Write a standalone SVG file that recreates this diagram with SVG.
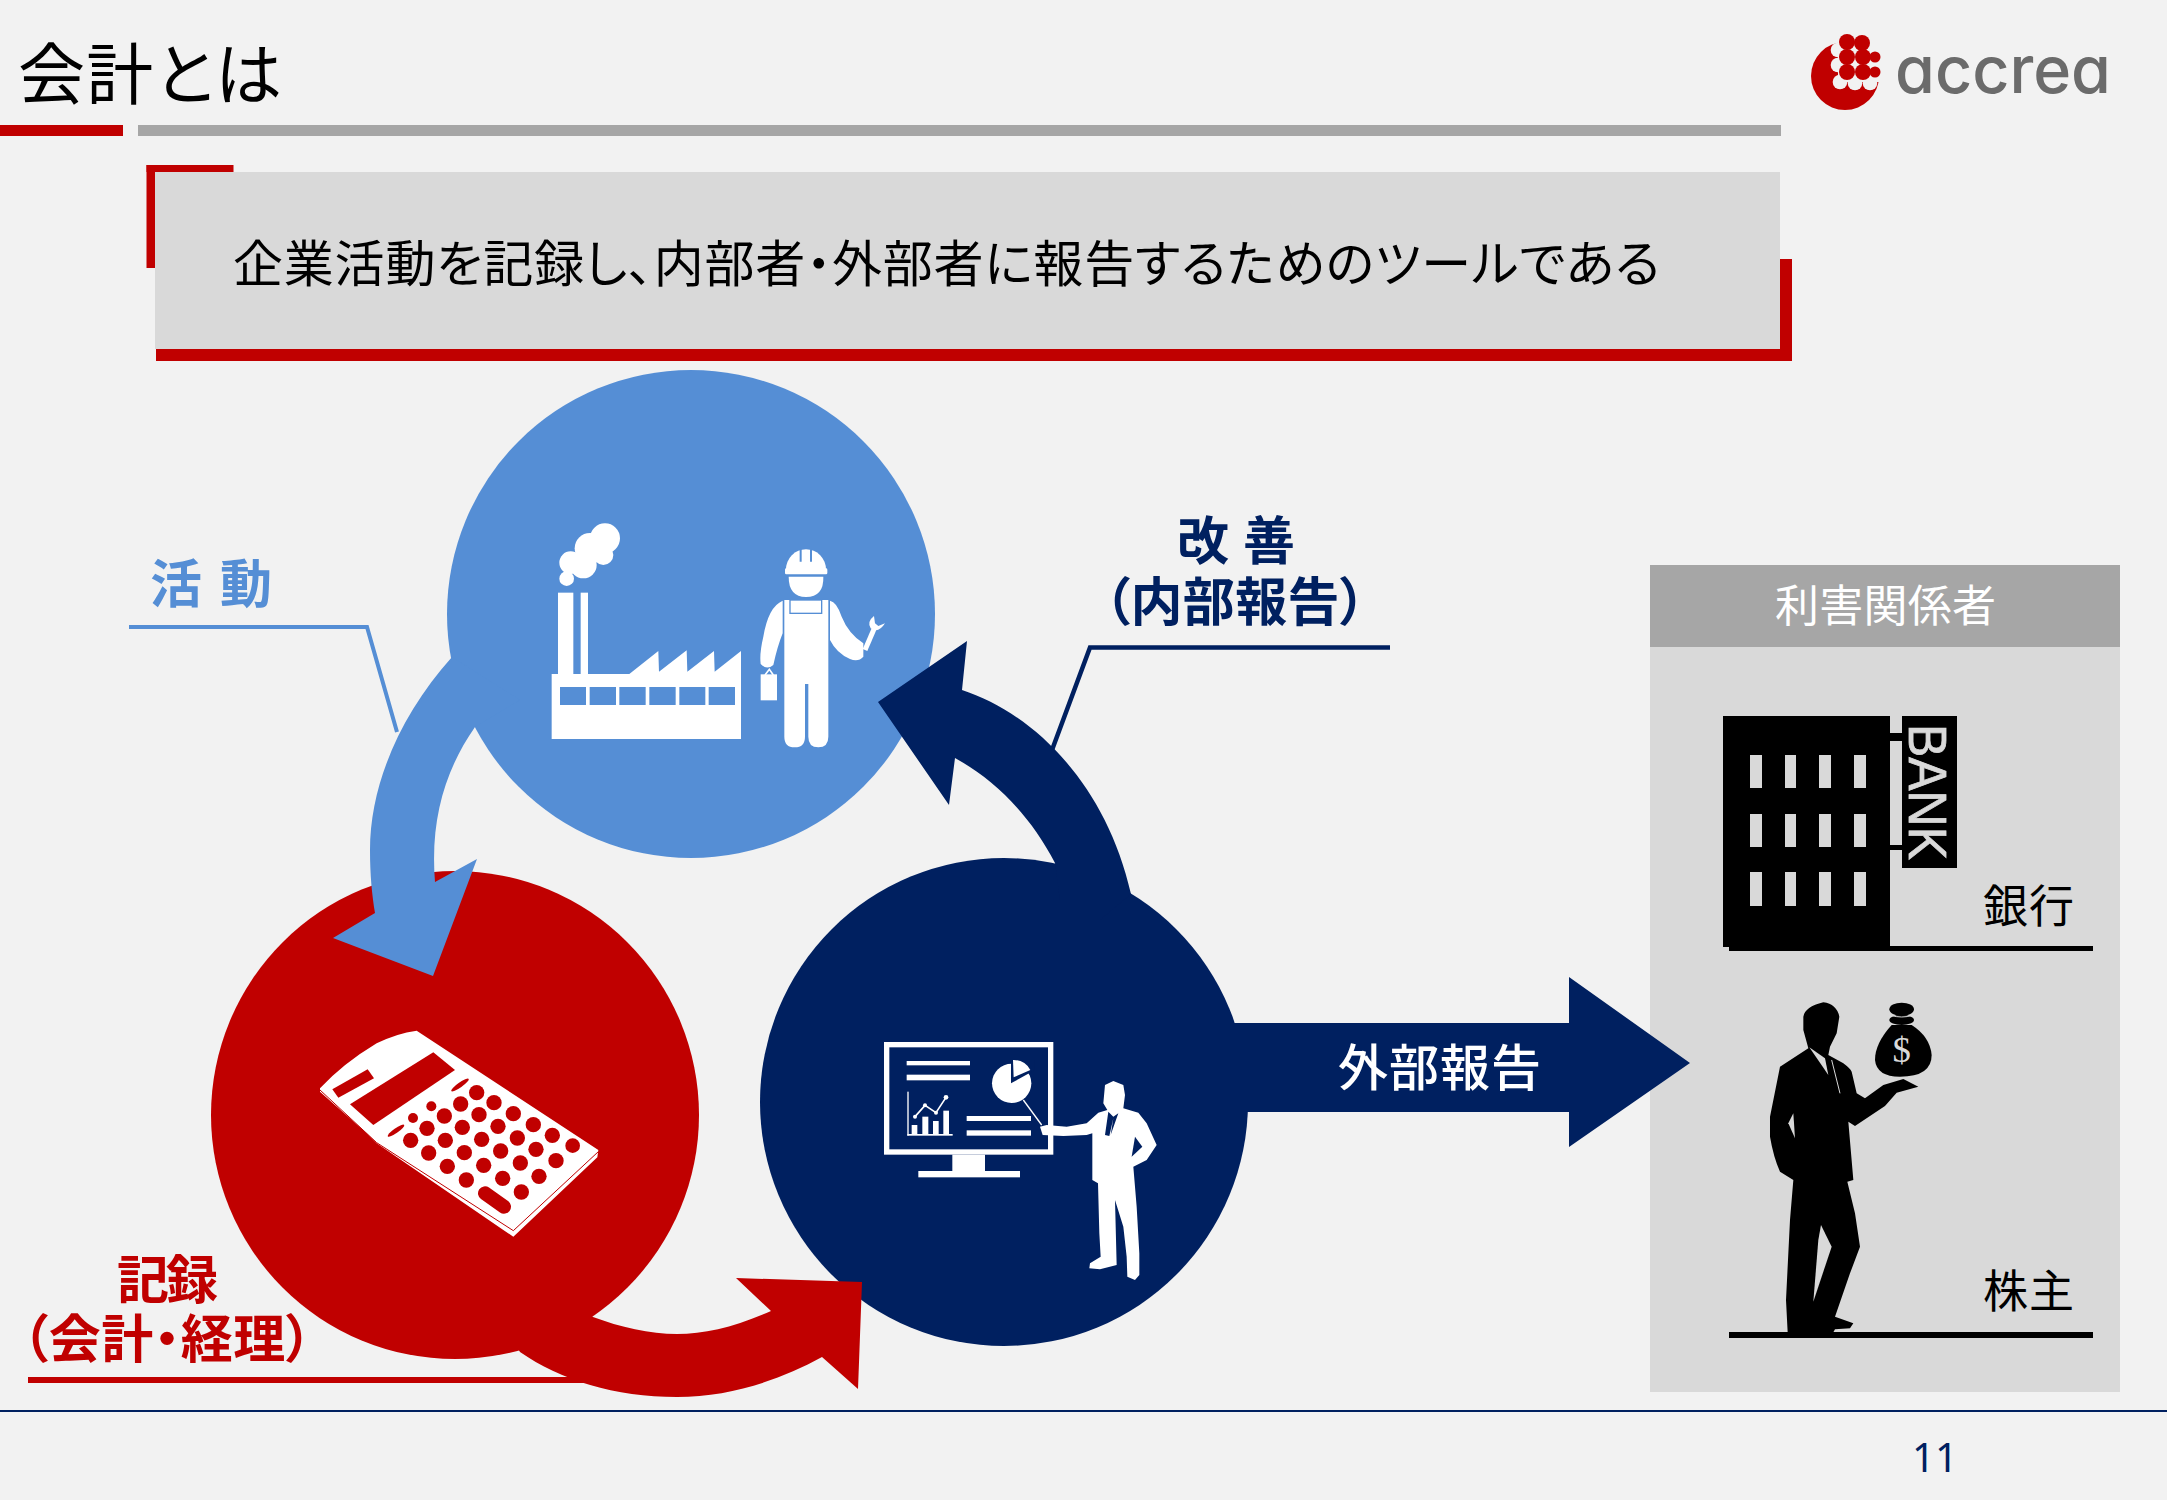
<svg xmlns="http://www.w3.org/2000/svg" width="2167" height="1500" viewBox="0 0 2167 1500">
<style>
text{font-family:"Noto Sans CJK JP","Noto Sans",sans-serif;font-feature-settings:"palt";}
.w{fill:#fff}.bl{fill:#558ED5}.rd{fill:#C00000}.nv{fill:#002060}.k{fill:#000}.g{fill:#D9D9D9}.bg{fill:#F2F2F2}
.lb{font-size:52px;font-weight:700}
.sm{font-size:45px;fill:#000}
</style>
<rect width="2167" height="1500" class="bg"/>
<g id="header">
<rect x="0" y="125" width="123" height="11" class="rd"/>
<rect x="138" y="125" width="1643" height="11" fill="#A6A6A6"/>
<text x="18" y="99" font-size="67" textLength="264" lengthAdjust="spacing" fill="#000">会計とは</text>
</g>
<g id="logo">
<circle cx="1845" cy="76" r="34" class="rd"/>
<g class="bg"><rect x="1838" y="36" width="46" height="46"/><circle cx="1838" cy="50" r="7.300"/><circle cx="1838" cy="65" r="7.300"/><circle cx="1840" cy="82" r="7.300"/><circle cx="1855" cy="83" r="7.300"/><circle cx="1870" cy="83" r="7.300"/></g>
<g class="rd"><circle cx="1847" cy="42" r="8"/><circle cx="1862" cy="43" r="8"/><circle cx="1847" cy="57" r="8"/><circle cx="1863" cy="57" r="8"/><circle cx="1875" cy="57" r="5.500"/><circle cx="1847" cy="72" r="8"/><circle cx="1863" cy="72" r="8"/><circle cx="1875" cy="72" r="5.500"/></g>
<text x="1895" y="93" font-size="66" font-weight="500" textLength="216" lengthAdjust="spacingAndGlyphs" fill="#6B6B6B" style="font-family:Inter,'Noto Sans',sans-serif;font-feature-settings:'cv11'">accrea</text>
</g>
<g id="definition">
<rect x="146.500" y="165" width="87" height="7" class="rd"/>
<rect x="146.500" y="165" width="8.500" height="103" class="rd"/>
<rect x="1780" y="259" width="12" height="102" class="rd"/>
<rect x="156" y="349" width="1636" height="12" class="rd"/>
<rect x="155" y="172" width="1625" height="177" class="g"/>
<text x="233" y="282" font-size="50" textLength="1427" lengthAdjust="spacing" fill="#000">企業活動を記録し、内部者・外部者に報告するためのツールである</text>
</g>
<g id="node-activity">
<circle cx="691" cy="614" r="244" class="bl"/>
<g transform="translate(500 480) scale(.33333)">
<g class="w">
<rect x="174" y="338" width="46" height="250"/><rect x="242" y="338" width="22" height="250"/>
<polygon points="155,582 388,582 475,513 477,575 560,511 562,575 642,513 644,575 723,513 723,777 155,777"/>
<circle cx="315" cy="175" r="45"/><circle cx="270" cy="205" r="46"/><circle cx="212" cy="248" r="34"/><circle cx="250" cy="255" r="40"/><circle cx="200" cy="296" r="22"/><circle cx="310" cy="225" r="30"/>
<path d="M858 268A60 60 0 0 1 978 268Z"/><rect x="855" y="265" width="127" height="18" rx="4"/>
<path d="M866 290H970Q972 350 918 351Q866 350 866 290Z"/>
<path d="M853 360H985V770Q985 802 955 802Q925 802 925 770V612H915V770Q915 802 884 802Q853 802 853 770Z"/>
<path d="M848 362Q805 380 790 470Q778 520 782 552Q800 572 820 555Q832 500 848 460Z"/>
<path d="M990 362Q1010 365 1025 410Q1045 460 1090 490L1090 530Q1075 547 1050 537Q1010 520 990 480Z"/>
<rect x="782" y="583" width="49" height="78"/>
</g>
<path d="M795 585L808 568L820 585" fill="none" stroke="#fff" stroke-width="5"/>
<g class="bl"><rect x="180" y="621" width="78" height="54"/><rect x="269" y="621" width="79" height="54"/><rect x="358" y="621" width="79" height="54"/><rect x="448" y="621" width="79" height="54"/><rect x="538" y="621" width="78" height="54"/><rect x="626" y="621" width="79" height="54"/></g>
<path d="M902 208V245M933 208V245" stroke="#558ED5" stroke-width="6" fill="none"/>
<rect x="870" y="360" width="95" height="40" fill="none" stroke="#558ED5" stroke-width="4"/>
<path d="M1095 510L1125 440" stroke="#fff" stroke-width="15" fill="none"/>
<path d="M1122 408Q1100 425 1112 445Q1135 462 1155 430L1135 438L1125 430Z" class="w"/>
</g>
</g>
<g id="node-record">
<circle cx="455" cy="1115" r="244" class="rd"/>
<g transform="translate(300 1010) scale(.33333)">
<path class="w" d="M60 235Q130 160 230 100Q290 70 350 62L895 420L892 442L640 680L610 660L230 400L200 370L60 245Z"/>
<path d="M60 240L230 398L640 662L895 425" fill="none" stroke="#C00000" stroke-width="3"/>
<g class="rd">
<polygon points="150,283 400,127 465,180 220,345"/><polygon points="97,238 203,178 222,205 115,263"/>
<ellipse cx="480" cy="225" rx="32" ry="7" transform="rotate(-35 480 225)"/><ellipse cx="288" cy="362" rx="30" ry="7" transform="rotate(-35 288 362)"/>
<circle cx="394" cy="289" r="15"/><circle cx="339" cy="324" r="15"/>
<circle cx="530" cy="248" r="23"/><circle cx="582" cy="278" r="23"/><circle cx="640" cy="311" r="23"/><circle cx="700" cy="344" r="23"/><circle cx="757" cy="376" r="23"/><circle cx="818" cy="407" r="22"/>
<circle cx="482" cy="282" r="23"/><circle cx="537" cy="314" r="23"/><circle cx="594" cy="349" r="23"/><circle cx="652" cy="384" r="23"/><circle cx="708" cy="418" r="23"/><circle cx="768" cy="452" r="23"/>
<circle cx="433" cy="318" r="23"/><circle cx="487" cy="352" r="23"/><circle cx="545" cy="388" r="23"/><circle cx="602" cy="423" r="23"/><circle cx="661" cy="459" r="23"/><circle cx="717" cy="499" r="23"/>
<circle cx="381" cy="355" r="23"/><circle cx="436" cy="391" r="23"/><circle cx="493" cy="428" r="23"/><circle cx="551" cy="466" r="23"/><circle cx="608" cy="505" r="23"/><circle cx="664" cy="546" r="23"/>
<circle cx="332" cy="391" r="23"/><circle cx="386" cy="429" r="23"/><circle cx="442" cy="469" r="23"/><circle cx="499" cy="510" r="23"/>
</g>
<path d="M555 550L612 590" stroke="#C00000" stroke-width="42" stroke-linecap="round" fill="none"/>
</g>
</g>
<g id="node-report">
<circle cx="1004" cy="1102" r="244" class="nv"/>
<g transform="translate(860 1020) scale(.33333)">
<rect x="80" y="74" width="492" height="322" fill="none" stroke="#fff" stroke-width="16"/>
<g class="w">
<rect x="277" y="404" width="98" height="52"/><rect x="175" y="453" width="305" height="19"/>
<rect x="140" y="123" width="190" height="13"/><rect x="140" y="164" width="190" height="17"/>
<rect x="320" y="288" width="193" height="15"/><rect x="320" y="331" width="193" height="16"/>
<rect x="142" y="215" width="4" height="132"/><rect x="142" y="342" width="136" height="5"/>
<rect x="155" y="315" width="17" height="28"/><rect x="187" y="290" width="18" height="53"/><rect x="219" y="303" width="17" height="40"/><rect x="250" y="272" width="17" height="71"/>
<circle cx="165" cy="290" r="6"/><circle cx="195" cy="256" r="6"/><circle cx="228" cy="278" r="6"/><circle cx="258" cy="232" r="7"/>
<circle cx="455" cy="190" r="59"/>
</g>
<polyline points="165,290 195,256 228,278 258,232" fill="none" stroke="#fff" stroke-width="5"/>
<polygon points="453,190 453,120 525,120 525,150" class="nv"/>
<path d="M461 172L459 120A58 58 0 0 1 511 150Z" class="w"/>
<path d="M490 240L545 315" stroke="#fff" stroke-width="4" fill="none"/>
<path class="w" d="M540 320L548 345L610 348L680 345L697 340L697 480L714 490L718 640L722 710L690 730L688 745L720 748L770 735L765 540L790 620L800 710L802 770L825 780L838 765L838 700L830 560L820 440L860 420L890 375L860 310L835 278L790 265L795 225L790 195L760 183L735 195L730 250L742 270L715 278L680 310L620 320L560 315Z"/>
<polygon points="745,275 735,345 748,348 760,295 752,345 775,280 760,290" class="nv"/>
<polygon points="825,350 847,380 815,410" class="nv"/>
</g>
</g>
<g id="stakeholders">
<rect x="1650" y="565" width="470" height="827" class="g"/>
<rect x="1650" y="565" width="470" height="82" fill="#A6A6A6"/>
<text x="1775" y="622" font-size="44" fill="#fff" textLength="221" lengthAdjust="spacing">利害関係者</text>
</g>
<g id="connectors">
<polyline points="129,627 367,627 397,732" fill="none" stroke="#558ED5" stroke-width="4"/>
<polyline points="1390,647.500 1090,647.500 1052,750" fill="none" stroke="#002060" stroke-width="4.500"/>
<rect x="28" y="1377" width="560" height="6" class="rd"/>
<path class="bl" d="M452 657C400 715 370 785 370 850C370 875 372 895 375 913L333 938L433 976L477 859L435 882C430 820 445 770 475 727L520 700Z"/>
<path class="nv" d="M878 702L967 641L962 690C1030 712 1105 780 1131 894L1100 920L1060 900L1055 863C1030 815 995 780 955 758L949 805Z"/>
<path class="rd" d="M520 1352C560 1380 615 1397 677 1397C730 1397 780 1380 822 1357L858 1389L862 1282L736 1278L771 1311C735 1327 705 1334 677 1334C650 1334 620 1327 593 1317L540 1280L500 1320Z"/>
<polygon class="nv" points="1200,1023 1569,1023 1569,977 1690,1063 1569,1147 1569,1112 1200,1112"/>
</g>
<g id="labels">
<text x="150" y="603" class="lb bl" textLength="122" lengthAdjust="spacing">活 動</text>
<text x="1177" y="560" class="lb nv" textLength="118" lengthAdjust="spacing">改 善</text>
<text x="1104" y="621" class="lb nv" textLength="262" lengthAdjust="spacing">（内部報告）</text>
<text x="117" y="1299" class="lb rd" textLength="101" lengthAdjust="spacing">記録</text>
<text x="22" y="1358" class="lb rd" textLength="290" lengthAdjust="spacing">（会計・経理）</text>
<text x="1338" y="1086" font-size="50" font-weight="500" fill="#fff" textLength="203" lengthAdjust="spacing">外部報告</text>
</g>
<g id="node-bank">
<rect x="1723" y="716" width="167" height="231" class="k"/>
<rect x="1729" y="946" width="364" height="5" class="k"/>
<rect x="1902" y="716" width="55" height="152" class="k"/>
<rect x="1890" y="733" width="12" height="8" class="k"/><rect x="1890" y="845" width="12" height="5" class="k"/>
<g class="g">
<rect x="1750" y="755" width="12" height="33"/><rect x="1785" y="755" width="11" height="33"/><rect x="1819" y="755" width="12" height="33"/><rect x="1854" y="755" width="12" height="33"/>
<rect x="1750" y="814" width="12" height="33"/><rect x="1785" y="814" width="11" height="33"/><rect x="1819" y="814" width="12" height="33"/><rect x="1854" y="814" width="12" height="33"/>
<rect x="1750" y="872" width="12" height="34"/><rect x="1785" y="872" width="11" height="34"/><rect x="1819" y="872" width="12" height="34"/><rect x="1854" y="872" width="12" height="34"/>
</g>
<text transform="translate(1909 724) rotate(90)" font-size="54" font-weight="400" textLength="136" lengthAdjust="spacingAndGlyphs" class="g" stroke="#D9D9D9" stroke-width=".8" style="font-family:'Liberation Sans',sans-serif">BANK</text>
<text x="1983" y="923" class="sm" textLength="91" lengthAdjust="spacing">銀行</text>
</g>
<g id="node-shareholder">
<rect x="1729" y="1332" width="364" height="6" class="k"/>
<g transform="translate(1740 980) scale(.33333)">
<path class="k" d="M190 110Q195 80 250 67Q290 72 298 110L290 160L270 200L265 225L310 250Q330 265 335 275L350 340L375 355L430 315L490 297L535 320L470 338L435 378L345 438L325 425L340 600L322 605L345 700L360 800L330 880L285 1010L340 1030L330 1045L285 1048L280 1057L143 1057L138 960L150 720L160 600L120 575Q100 530 90 470L90 410L120 260L205 205L190 150Z"/>
<polygon class="g" points="243,735 275,800 220,965 235,780"/>
<polygon class="g" points="160,400 145,430 165,475"/>
<polygon class="g" points="208,202 265,285 255,235"/>
<path d="M275 240L300 340" stroke="#D9D9D9" stroke-width="3" fill="none"/>
<path class="k" d="M455 135Q405 190 405 240Q410 290 480 290Q575 290 575 225Q570 170 515 135Z"/>
<ellipse cx="485" cy="88" rx="37" ry="20" class="k"/><ellipse cx="485" cy="120" rx="37" ry="15" class="k"/>
<path d="M452 106Q485 116 518 106" stroke="#D9D9D9" stroke-width="3" fill="none"/>
<text x="485" y="245" font-size="110" text-anchor="middle" class="g" style="font-family:'Liberation Serif',serif">$</text>
</g>
<text x="1983" y="1308" class="sm" textLength="91" lengthAdjust="spacing">株主</text>
</g>
<g id="footer">
<rect x="0" y="1410" width="2167" height="2" class="nv"/>
<text x="1912" y="1472" font-size="40" class="nv" style="font-family:'Noto Sans',sans-serif">11</text>
</g>
</svg>
